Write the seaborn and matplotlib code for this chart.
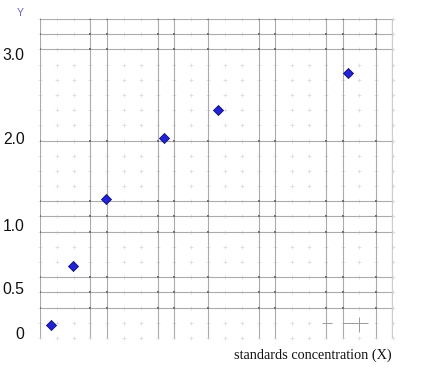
import numpy as np
import pandas as pd
import matplotlib
matplotlib.use("Agg")
import matplotlib.pyplot as plt
import seaborn as sns

# ---- data ----
conc = [0.65, 1.95, 3.95, 7.4, 10.6, 18.3]          # x, in grid-column units
absorb = [0.09, 0.67, 1.30, 2.00, 2.33, 2.77]       # y values
ytick_vals = [0, 0.5, 1.0, 2.0, 3.0]
ytick_labels = ["0", "0.5", "1.0", "2.0", "3.0"]
xlabel = "standards concentration (X)"
ylabel = "Y"

# graph-paper layout (grid units)
n_cols, n_rows = 21, 21
solid_cols = [0, 3, 4, 7, 8, 10, 13, 14, 17, 18, 20]
solid_rows = [0, 1, 2, 8, 12, 13, 14, 17, 18, 19]

# nonlinear y scale: value -> row position (knots of the hand-drawn axis)
knot_vals = np.array([-1.0, 0.0, 0.5, 1.0, 2.0, 3.0, 6.0])
knot_rows = np.array([21.0 + 85 / 15.2, 20.67, 17.7, 13.55, 7.83, 2.3, 2.3 - 3 * 84 / 15.2])

def fwd(v):
    return -np.interp(v, knot_vals, knot_rows)

def inv(t):
    return np.interp(-np.asarray(t), knot_rows[::-1], knot_vals[::-1])

sns.set_theme(style="white")
plt.rcParams["font.family"] = ["Liberation Sans", "DejaVu Sans"]

W, H = 423, 371
fig = plt.figure(figsize=(W / 100, H / 100), dpi=100)
rect = [40 / W, (H - 338) / H, 353 / W, 319 / H]

# graph paper axes
axg = fig.add_axes(rect)
axg.set_xlim(0, n_cols)
axg.set_ylim(n_rows, 0)
axg.axis("off")
cx, cy = np.meshgrid(np.arange(n_cols + 1), np.arange(n_rows + 1))
axg.scatter(cx.ravel(), cy.ravel(), marker="+", s=9, linewidths=0.5,
            color="#d8d8d8", zorder=1, clip_on=False)
axg.vlines(solid_cols, 0, n_rows, color="#ababab", lw=0.8, zorder=2)
axg.hlines(solid_rows, 0, n_cols, color="#ababab", lw=0.8, zorder=2)
axg.vlines([n_cols], 0, n_rows, color="#cccccc", lw=2.4, zorder=2)
# small stray marks at lower right of the paper
axg.hlines([20, 20, 21], [16.8, 18.0, 18.9], [17.4, 19.5, 19.5], color="#999999", lw=0.7)
axg.vlines([19], [19.6], [20.6], color="#999999", lw=0.7)
ix, iy = np.meshgrid(solid_cols, solid_rows)
axg.scatter(ix.ravel(), iy.ravel(), marker="s", s=1.0, color="#707070",
            linewidths=0, zorder=3)

# data axes
ax = fig.add_axes(rect)
ax.patch.set_alpha(0)
ax.set_yscale("function", functions=(fwd, inv))
df = pd.DataFrame({"x": conc, "y": absorb})
sns.scatterplot(data=df, x="x", y="y", ax=ax, marker="D", s=26,
                color="#2222d8", edgecolor="#10106a", linewidth=0.6, zorder=5,
                clip_on=False)
ax.set_xlim(0, n_cols)
ax.set_ylim(inv(-n_rows), inv(0))
ax.set_xticks([])
ax.set_yticks(ytick_vals)
ax.set_yticklabels(ytick_labels)
ax.tick_params(axis="y", length=0, pad=11, labelsize=11.3, labelcolor="#111111")
ax.set_xlabel("")
ax.set_ylabel("")
for s in ax.spines.values():
    s.set_visible(False)

fig.text(20 / W, 1 - 13 / H, ylabel, ha="center", va="center",
         fontsize=7.5, color="#6a5fc0")
fig.text(392 / W, 1 - 355 / H, xlabel, ha="right", va="center",
         fontsize=10.3, family=["Liberation Serif", "DejaVu Serif"], color="#111111")

fig.savefig("out.png", dpi=100)
